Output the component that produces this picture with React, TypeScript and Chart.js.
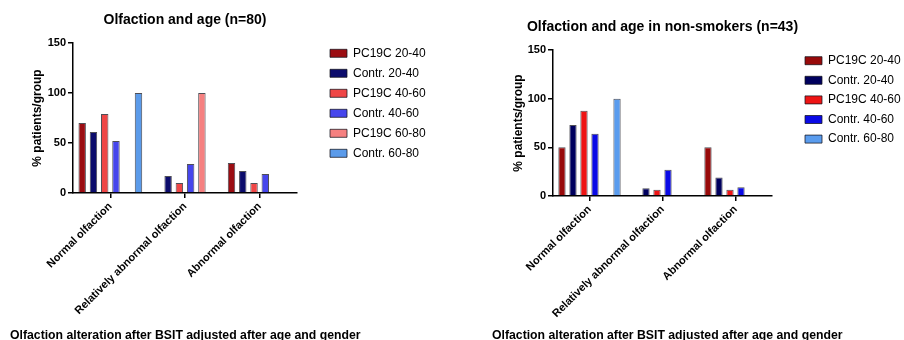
import React, { useEffect, useRef } from 'react';
import { Chart, registerables } from 'chart.js';

Chart.register(...registerables);

// ---------- data ----------
const categories = ['Normal olfaction', 'Relatively abnormal olfaction', 'Abnormal olfaction'];
const seriesLabels = ['PC19C 20-40', 'Contr. 20-40', 'PC19C 40-60', 'Contr. 40-60', 'PC19C 60-80', 'Contr. 60-80'];
const yTickValues = [0, 50, 100, 150];

// Chart 1: Olfaction and age (n=80)
const allPc19c2040 = [70, 0, 30];
const allContr2040 = [61, 17, 22];
const allPc19c4060 = [79, 10, 10];
const allContr4060 = [52, 29, 19];
const allPc19c6080 = [0, 100, 0];
const allContr6080 = [100, 0, 0];

// Chart 2: Olfaction and age in non-smokers (n=43)
const nsPc19c2040 = [50, 0, 50];
const nsContr2040 = [73, 8, 19];
const nsPc19c4060 = [87.5, 6.5, 6.5];
const nsContr4060 = [64, 27, 9];
const nsPc19c6080: (number | null)[] = [null, null, null];
const nsContr6080 = [100, 0, 0];

const title1 = 'Olfaction and age (n=80)';
const title2 = 'Olfaction and age in non-smokers (n=43)';
const yTitle = '% patients/group';
const caption = 'Olfaction alteration after BSIT adjusted after age and gender';

// ---------- styles ----------
const colors1 = ['#9b0d12', '#0c0c6c', '#ef4646', '#4646ec', '#f58080', '#5b9bea'];
const colors2 = ['#980a0a', '#00005e', '#ee1414', '#0a0ae6', '#d0d0d0', '#5a9cee'];
const FONT = '"Liberation Sans", Arial, Helvetica, sans-serif';

const legendPlace = {
  id: 'legendPlace',
  afterLayout(chart: any, _args: any, opts: any) {
    const lg = chart.legend;
    if (lg && opts && opts.left != null) {
      lg.left = opts.left;
      lg.right = chart.width;
      lg.top = opts.top;
      lg.bottom = chart.height;
    }
    const tb = chart.titleBlock;
    if (tb && chart.chartArea) {
      const c = (chart.chartArea.left + chart.chartArea.right) / 2;
      tb.left = c - 300;
      tb.right = c + 300;
    }
  },
};

type Geo = {
  width: number;
  yAxisWidth: number;
  yTitlePad: number;
  titlePadTop: number;
  titlePadBottom: number;
  xAxisHeight: number;
  padRight: number;
  legendLeft: number;
  legendTop: number;
  legendPad: number;
};

function makeConfig(title: string, series: (number | null)[][], colors: string[], hideIdx: number[], g: Geo): any {
  return {
    type: 'bar',
    data: {
      labels: categories,
      datasets: series.map((d, i) => ({
        label: seriesLabels[i],
        data: d,
        backgroundColor: colors[i],
        borderColor: 'rgba(20,20,30,0.75)',
        borderWidth: 1,
        barPercentage: 0.66,
        categoryPercentage: 0.905,
      })),
    },
    plugins: [legendPlace],
    options: {
      responsive: false,
      animation: false,
      devicePixelRatio: 1,
      layout: { padding: { left: 0, top: 0, bottom: 0, right: g.padRight } },
      plugins: {
        tooltip: { enabled: false },
        title: {
          display: true,
          text: title,
          fullSize: false,
          color: '#000',
          font: { family: FONT, size: 14, weight: 'bold' },
          padding: { top: g.titlePadTop, bottom: g.titlePadBottom },
        },
        legend: {
          display: true,
          position: 'right',
          align: 'start',
          maxWidth: 40,
          labels: {
            color: '#000',
            font: { family: FONT, size: 12 },
            boxWidth: 17,
            boxHeight: 8,
            padding: g.legendPad,
            filter: (item: any) => !hideIdx.includes(item.datasetIndex),
          },
        },
        legendPlace: { left: g.legendLeft, top: g.legendTop },
      },
      scales: {
        x: {
          offset: true,
          grid: { display: true, drawOnChartArea: false, offset: false, tickLength: 5, color: '#000', lineWidth: 1.5 },
          border: { display: true, color: '#000', width: 1.5 },
          ticks: {
            color: '#000',
            font: { family: FONT, size: 11, weight: 'bold' },
            maxRotation: 45,
            minRotation: 45,
            padding: 2,
            autoSkip: false,
          },
          afterFit: (s: any) => {
            s.height = g.xAxisHeight;
          },
        },
        y: {
          min: 0,
          max: 150,
          afterBuildTicks: (s: any) => {
            s.ticks = yTickValues.map((v) => ({ value: v }));
          },
          grid: { display: true, drawOnChartArea: false, tickLength: 5, color: '#000', lineWidth: 1.5 },
          border: { display: true, color: '#000', width: 1.5 },
          ticks: { color: '#000', font: { family: FONT, size: 11, weight: 'bold' }, padding: 2 },
          title: {
            display: true,
            text: yTitle,
            color: '#000',
            font: { family: FONT, size: 12, weight: 'bold' },
            padding: { top: g.yTitlePad, bottom: 0 },
          },
          afterFit: (s: any) => {
            s.width = g.yAxisWidth;
          },
        },
      },
    },
  };
}

function BarChart(props: { title: string; series: (number | null)[][]; colors: string[]; hideIdx: number[]; g: Geo }) {
  const ref = useRef<HTMLCanvasElement | null>(null);
  useEffect(() => {
    if (!ref.current) return;
    const chart = new Chart(ref.current, makeConfig(props.title, props.series, props.colors, props.hideIdx, props.g));
    return () => chart.destroy();
  }, []);
  return <canvas ref={ref} width={props.g.width} height={340} style={{ display: 'block', width: props.g.width, height: 340 }} />;
}

const geo1: Geo = {
  width: 450,
  yAxisWidth: 73,
  yTitlePad: 30.4,
  titlePadTop: 11.6,
  titlePadBottom: 14.6,
  xAxisHeight: 147,
  padRight: 450 - 297 - 40,
  legendLeft: 322,
  legendTop: 39.3,
  legendPad: 8,
};

const geo2: Geo = {
  width: 454,
  yAxisWidth: 103,
  yTitlePad: 61.4,
  titlePadTop: 18.6,
  titlePadBottom: 14.6,
  xAxisHeight: 144,
  padRight: 454 - 322 - 40,
  legendLeft: 347.4,
  legendTop: 47.1,
  legendPad: 7.6,
};

const captionStyle: React.CSSProperties = {
  position: 'absolute',
  top: 327.5,
  fontFamily: FONT,
  fontWeight: 'bold',
  fontSize: 12.25,
  lineHeight: '14px',
  whiteSpace: 'nowrap',
  color: '#000',
};

export default function App() {
  return (
    <div style={{ position: 'fixed', left: 0, top: 0, width: 904, height: 340, background: '#fff', overflow: 'hidden' }}>
      <div style={{ position: 'absolute', left: 0, top: 0, width: 450, height: 340 }}>
        <BarChart
          title={title1}
          series={[allPc19c2040, allContr2040, allPc19c4060, allContr4060, allPc19c6080, allContr6080]}
          colors={colors1}
          hideIdx={[]}
          g={geo1}
        />
      </div>
      <div style={{ position: 'absolute', left: 450, top: 0, width: 454, height: 340 }}>
        <BarChart
          title={title2}
          series={[nsPc19c2040, nsContr2040, nsPc19c4060, nsContr4060, nsPc19c6080, nsContr6080]}
          colors={colors2}
          hideIdx={[4]}
          g={geo2}
        />
      </div>
      <div style={{ ...captionStyle, left: 10 }}>{caption}</div>
      <div style={{ ...captionStyle, left: 492 }}>{caption}</div>
    </div>
  );
}
